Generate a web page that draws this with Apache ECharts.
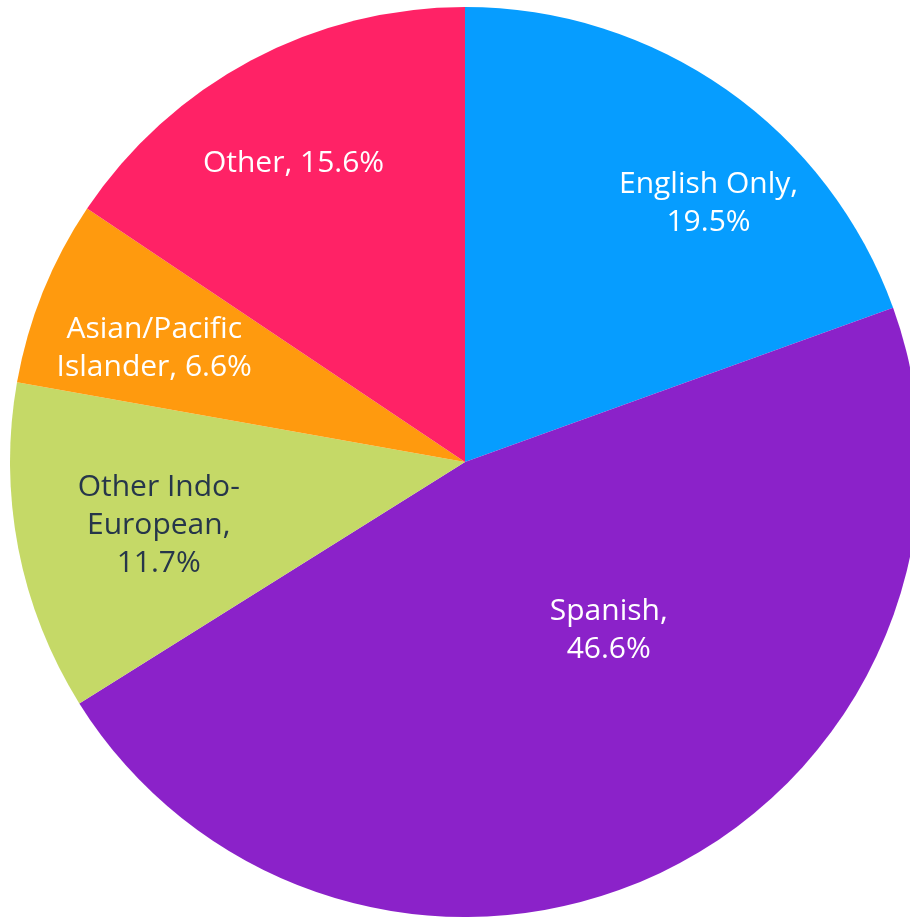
<!DOCTYPE html>
<html>
<head>
<meta charset="utf-8">
<script src="https://cdn.jsdelivr.net/npm/echarts@6/dist/echarts.min.js"></script>
<style>
  html, body { margin: 0; padding: 0; background: #fff; }
  #chart { width: 910px; height: 917px; }
</style>
</head>
<body>
<div id="chart"></div>
<script>
// Language spoken at home, share of total
const categories = ['English Only', 'Spanish', 'Other Indo-European', 'Asian/Pacific Islander', 'Other'];
const shares = [19.5, 46.6, 11.7, 6.6, 15.6];
const labelTexts = ['English Only,\n19.5%', 'Spanish,\n46.6%', 'Other Indo-\nEuropean,\n11.7%', 'Asian/Pacific\nIslander, 6.6%', 'Other, 15.6%'];

// styling
const colors = ['#069dff', '#8b22c9', '#c5d967', '#ff9a0e', '#ff2266'];
const textColors = ['#ffffff', '#ffffff', '#26364a', '#ffffff', '#ffffff'];
// nudge labels away from the default mid-radius spot
const labelShift = [[111, -70], [43, -39], [-80, 20], [-97, -27], [-63, -95]];

const chart = echarts.init(document.getElementById('chart'));

chart.setOption({
    animation: false,
    series: [{
        type: 'pie',
        center: [465, 462],
        radius: 455,
        startAngle: 90,
        clockwise: true,
        avoidLabelOverlap: false,
        itemStyle: { borderWidth: 0 },
        label: {
            show: true,
            position: 'inside',
            fontFamily: 'Open Sans',
            fontSize: 30,
            lineHeight: 38,
            align: 'center',
            formatter: p => labelTexts[p.dataIndex]
        },
        labelLine: { show: false },
        labelLayout: p => ({ dx: labelShift[p.dataIndex][0], dy: labelShift[p.dataIndex][1] }),
        emphasis: { disabled: true },
        data: categories.map((name, i) => ({
            name: name,
            value: shares[i],
            itemStyle: { color: colors[i] },
            label: { color: textColors[i] }
        }))
    }]
});
</script>
</body>
</html>
